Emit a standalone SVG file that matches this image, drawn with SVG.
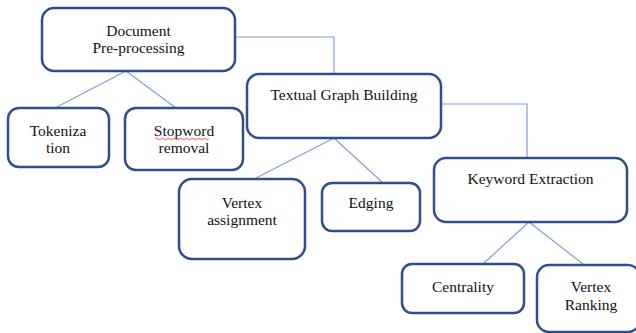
<svg xmlns="http://www.w3.org/2000/svg" width="636" height="333" viewBox="0 0 636 333">
<style>
.box{fill:#fff;stroke:#2f4f8a;stroke-width:2.5}
.con{fill:none;stroke:#7f9fd8;stroke-width:1.2}
.t{font-family:'Liberation Serif','Times New Roman',serif;font-size:15.5px;fill:#111;text-anchor:middle}
</style>
<rect width="636" height="333" fill="#fff"/>
<g id="connectors">
<polyline class="con" points="235,37 334,37 334,74"/>
<polyline class="con" points="441,104 527,104 527,158"/>
<line class="con" x1="126" y1="71" x2="55" y2="108"/>
<line class="con" x1="126" y1="71" x2="176" y2="108"/>
<line class="con" x1="334" y1="138" x2="256" y2="178"/>
<line class="con" x1="334" y1="138" x2="383" y2="183"/>
<line class="con" x1="529" y1="222" x2="484" y2="263"/>
<line class="con" x1="529" y1="222" x2="583" y2="264"/>
</g>
<g class="t">
<g id="doc">
<rect class="box" x="42" y="8" width="193" height="63" rx="12"/>
<text x="138.5" y="36">Document</text>
<text x="138.5" y="53">Pre-processing</text>
</g>
<g id="tok">
<rect class="box" x="8" y="108" width="101" height="59" rx="11"/>
<text x="58" y="136">Tokeniza</text>
<text x="58" y="153">tion</text>
</g>
<g id="stop">
<rect class="box" x="125" y="108" width="118" height="62" rx="11"/>
<text x="184" y="136">Stopword</text>
<path d="M155,139 q1.5,-1.5 3,0 t3,0 t3,0 t3,0 t3,0 t3,0 t3,0 t3,0 t3,0 t3,0 t3,0 t3,0 t3,0 t3,0 t3,0 t3,0 t3,0 t3,0" fill="none" stroke="#e03030" stroke-width="0.8"/>
<text x="184" y="153">removal</text>
</g>
<g id="textual">
<rect class="box" x="247" y="74" width="194" height="64" rx="12"/>
<text x="344" y="100">Textual Graph Building</text>
</g>
<g id="vertex">
<rect class="box" x="179" y="179" width="126" height="80" rx="13"/>
<text x="242" y="208">Vertex</text>
<text x="242" y="225">assignment</text>
</g>
<g id="edging">
<rect class="box" x="322" y="183" width="98" height="48" rx="10"/>
<text x="371" y="208">Edging</text>
</g>
<g id="keyword">
<rect class="box" x="434" y="158" width="193" height="64" rx="12"/>
<text x="530.5" y="184">Keyword Extraction</text>
</g>
<g id="centrality">
<rect class="box" x="402" y="264" width="122" height="49" rx="10"/>
<text x="463" y="292">Centrality</text>
</g>
<g id="ranking">
<rect class="box" x="537" y="265" width="103" height="67" rx="12"/>
<text x="591" y="292">Vertex</text>
<text x="591" y="310">Ranking</text>
</g>
</g>
</svg>
